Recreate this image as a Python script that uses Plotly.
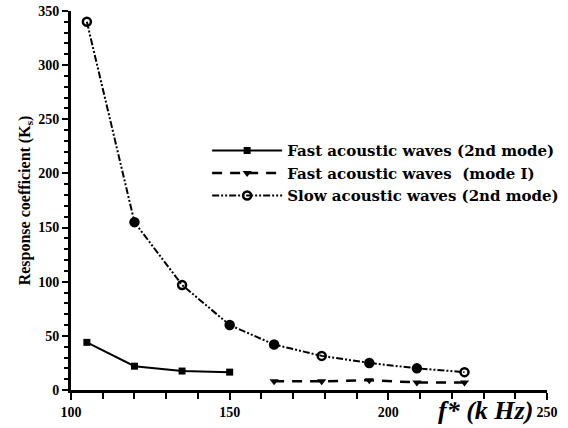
import plotly.graph_objects as go

freq_fast2 = [105, 120, 135, 150]
k_fast2 = [44, 22, 17.5, 16.5]

freq_fast1 = [164, 179, 194, 209, 224]
k_fast1 = [8, 8, 9, 7, 7]

freq_slow = [105, 120, 135, 150, 164, 179, 194, 209, 224]
k_slow = [340, 155, 97, 60, 42, 31.5, 25, 20, 16.5]

names = ["Fast acoustic waves (2nd mode)",
         "Fast acoustic waves  (mode I)",
         "Slow acoustic waves (2nd mode)"]

x_range = [100, 250]
y_range = [0, 350]

serif = "Liberation Serif"

fig = go.Figure()
fig.add_trace(go.Scatter(x=freq_fast2, y=k_fast2, mode="lines+markers", name="<b>" + names[0] + "</b>",
                         line=dict(color="black", width=2),
                         marker=dict(symbol="square", size=7, color="black")))
fig.add_trace(go.Scatter(x=freq_fast1, y=k_fast1, mode="lines+markers", name="<b>" + names[1] + "</b>",
                         line=dict(color="black", width=2.5, dash="10px,8px"),
                         marker=dict(symbol="triangle-down", size=8, color="black")))
fig.add_trace(go.Scatter(x=freq_slow, y=k_slow, mode="lines+markers", name="<b>" + names[2] + "</b>",
                         line=dict(color="black", width=2, dash="7px,2px,2px,2px,2px,2px"),
                         marker=dict(symbol=["circle-open", "circle", "circle-open", "circle", "circle",
                                             "circle-open", "circle", "circle", "circle-open"],
                                     size=8, color="black", line=dict(width=2.5, color="black"))))

fig.update_layout(
    width=568, height=428,
    margin=dict(l=71, r=21, t=11, b=38, autoexpand=False),
    paper_bgcolor="white", plot_bgcolor="white",
    font=dict(family=serif, color="black"),
    showlegend=True,
    legend=dict(x=0.286, y=0.675, xanchor="left", yanchor="top",
                font=dict(family="DejaVu Serif", size=15, color="black"),
                bgcolor="rgba(0,0,0,0)", tracegroupgap=0, itemwidth=70),
    annotations=[dict(text="<b><i>f* (k Hz)</i></b>", xref="paper", yref="paper",
                      x=0.975, y=-0.01, xanchor="right", yanchor="top", showarrow=False,
                      font=dict(family=serif, size=26, color="black"))]
)

axis_common = dict(ticks="outside", tickwidth=2, tickcolor="#000000",
                   showline=True, linewidth=3, linecolor="#000000",
                   showgrid=False, zeroline=False,
                   tickfont=dict(family=serif, size=14, color="black"),
                   tickprefix="<b>", ticksuffix="</b>")

fig.update_xaxes(range=x_range, tickmode="linear", tick0=x_range[0], dtick=50, ticklen=7,
                 minor=dict(dtick=10, ticks="outside", ticklen=6, tickwidth=1.5,
                            tickcolor="#000000", showgrid=False),
                 **axis_common)
fig.update_yaxes(range=y_range, tickmode="linear", tick0=y_range[0], dtick=50, ticklen=6,
                 minor=dict(dtick=10, ticks="outside", ticklen=4, tickwidth=1.5,
                            tickcolor="#000000", showgrid=False),
                 title=dict(text="<b>Response coefficient (K<sub>s</sub>)</b>",
                            font=dict(family=serif, size=16, color="black"), standoff=4),
                 **axis_common)

fig.write_html("out.html")
